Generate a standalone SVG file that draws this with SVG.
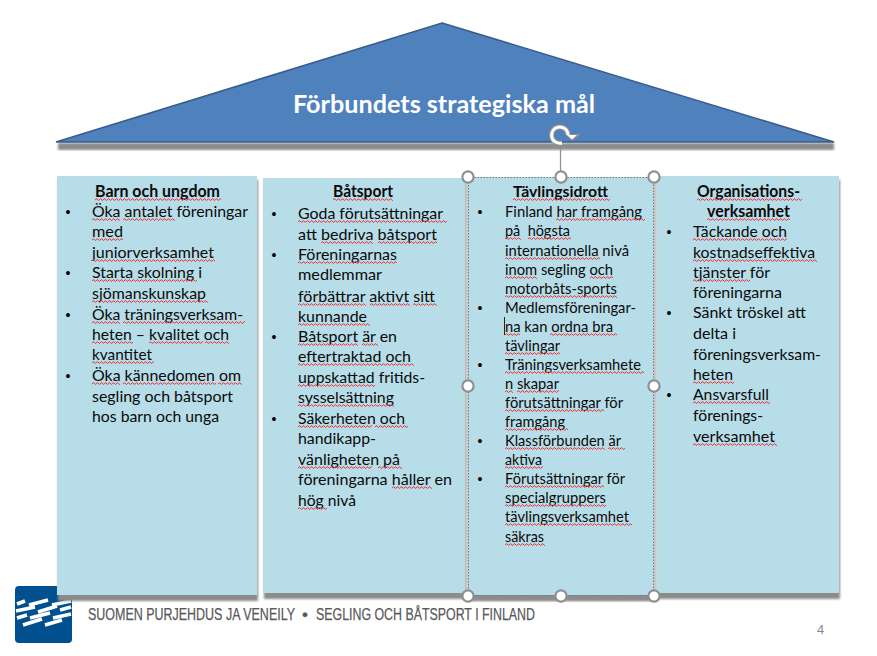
<svg xmlns="http://www.w3.org/2000/svg" width="877" height="656" viewBox="0 0 877 656">
<style>
text{font-family:Lato,"Liberation Sans",sans-serif;fill:#0a0a0a}
.t{font-size:16.2px}
.s{font-size:15.2px}
.h{font-weight:700}
.b{font-family:"Liberation Sans",sans-serif;font-size:14px;text-anchor:middle;fill:#000}
.f{font-family:"Liberation Sans",sans-serif;font-size:17px;fill:#58595b;stroke:#58595b;stroke-width:.25}
.box{fill:#b7dde8}
.shd{fill:#8c8c8c;filter:url(#blur)}
.q{fill:url(#sq)}
.hd{fill:#fff;stroke:#8f8f8f;stroke-width:2.2}
</style>
<defs>
<filter id="blur" x="-5%" y="-5%" width="110%" height="110%"><feGaussianBlur stdDeviation="0.8"/></filter>
<pattern id="sq" patternUnits="userSpaceOnUse" width="4" height="3"><path d="M0 2.3L1 .8L2 .8L3 2.3L4 2.3" fill="none" stroke="#e8454a" stroke-width="1"/></pattern>
</defs>
<rect width="877" height="656" fill="#fff"/>

<g id="logo">
<rect x="15" y="586" width="57" height="57" rx="4" fill="#00508f"/>
<path d="M17 604L25 601M29 605L48 600M52 605L71 601M16 611L35 607M38 612L57 606M60 610L71 607M17 618L27 615M30 618L50 613M53 618L71 614M23 625L42 619M45 625L62 620" stroke="#fff" stroke-width="3.8" fill="none"/>
</g>

<g id="roof">
<rect x="58" y="143" width="776" height="7" class="shd"/>
<polygon points="442,23 834,142 56,142" fill="#4f81bd" stroke="#385d8a" stroke-width="1.6" stroke-linejoin="miter"/>
<text x="293" y="113" class="h" font-size="25" style="fill:#fff" textLength="302" lengthAdjust="spacingAndGlyphs">Förbundets strategiska mål</text>
</g>

<g id="node-barn">
<rect x="58" y="180" width="200" height="421" class="shd"/>
<rect x="57" y="176" width="200" height="419" class="box"/>
<text x="95" y="197" class="t h" textLength="125" lengthAdjust="spacingAndGlyphs">Barn och ungdom</text>
<text x="68" y="217" class="b">•</text><text x="92" y="217" class="t" textLength="156" lengthAdjust="spacingAndGlyphs">Öka antalet föreningar</text>
<text x="92" y="237" class="t" textLength="31" lengthAdjust="spacingAndGlyphs">med</text>
<text x="92" y="258" class="t" textLength="122" lengthAdjust="spacingAndGlyphs">juniorverksamhet</text>
<text x="68" y="278" class="b">•</text><text x="92" y="278" class="t" textLength="110" lengthAdjust="spacingAndGlyphs">Starta skolning i</text>
<text x="92" y="299" class="t" textLength="114" lengthAdjust="spacingAndGlyphs">sjömanskunskap</text>
<text x="68" y="320" class="b">•</text><text x="92" y="320" class="t" textLength="151" lengthAdjust="spacingAndGlyphs">Öka träningsverksam-</text>
<text x="92" y="340" class="t" textLength="137" lengthAdjust="spacingAndGlyphs">heten – kvalitet och</text>
<text x="92" y="360" class="t" textLength="60" lengthAdjust="spacingAndGlyphs">kvantitet</text>
<text x="68" y="381" class="b">•</text><text x="92" y="381" class="t" textLength="149" lengthAdjust="spacingAndGlyphs">Öka kännedomen om</text>
<text x="92" y="402" class="t" textLength="141" lengthAdjust="spacingAndGlyphs">segling och båtsport</text>
<text x="92" y="422" class="t" textLength="127" lengthAdjust="spacingAndGlyphs">hos barn och unga</text>
<rect class="q" transform="translate(95,198)" width="126" height="3"/>
<rect class="q" transform="translate(92,218)" width="28" height="3"/>
<rect class="q" transform="translate(123,218)" width="52" height="3"/>
<rect class="q" transform="translate(92,238)" width="31" height="3"/>
<rect class="q" transform="translate(92,259)" width="123" height="3"/>
<rect class="q" transform="translate(92,279)" width="105" height="3"/>
<rect class="q" transform="translate(92,300)" width="116" height="3"/>
<rect class="q" transform="translate(92,321)" width="28" height="3"/>
<rect class="q" transform="translate(123,321)" width="122" height="3"/>
<rect class="q" transform="translate(92,341)" width="41" height="3"/>
<rect class="q" transform="translate(149,341)" width="54" height="3"/>
<rect class="q" transform="translate(205,341)" width="24" height="3"/>
<rect class="q" transform="translate(92,361)" width="62" height="3"/>
<rect class="q" transform="translate(92,382)" width="28" height="3"/>
<rect class="q" transform="translate(123,382)" width="93" height="3"/>
<rect class="q" transform="translate(218,382)" width="24" height="3"/>
</g>

<g id="node-batsport">
<rect x="264" y="182" width="202" height="417" class="shd"/>
<rect x="263" y="178" width="202" height="415" class="box"/>
<text x="333" y="197" class="t h" textLength="60" lengthAdjust="spacingAndGlyphs">Båtsport</text>
<text x="274" y="219" class="b">•</text><text x="298" y="219" class="t" textLength="145" lengthAdjust="spacingAndGlyphs">Goda förutsättningar</text>
<text x="298" y="240" class="t" textLength="139" lengthAdjust="spacingAndGlyphs">att bedriva båtsport</text>
<text x="274" y="260" class="b">•</text><text x="298" y="260" class="t" textLength="99" lengthAdjust="spacingAndGlyphs">Föreningarnas</text>
<text x="298" y="280" class="t" textLength="84" lengthAdjust="spacingAndGlyphs">medlemmar</text>
<text x="298" y="302" class="t" textLength="137" lengthAdjust="spacingAndGlyphs">förbättrar aktivt sitt</text>
<text x="298" y="322" class="t" textLength="69" lengthAdjust="spacingAndGlyphs">kunnande</text>
<text x="274" y="342" class="b">•</text><text x="298" y="342" class="t" textLength="99" lengthAdjust="spacingAndGlyphs">Båtsport är en</text>
<text x="298" y="362" class="t" textLength="113" lengthAdjust="spacingAndGlyphs">eftertraktad och</text>
<text x="298" y="383" class="t" textLength="127" lengthAdjust="spacingAndGlyphs">uppskattad fritids-</text>
<text x="298" y="403" class="t" textLength="96" lengthAdjust="spacingAndGlyphs">sysselsättning</text>
<text x="274" y="424" class="b">•</text><text x="298" y="424" class="t" textLength="107" lengthAdjust="spacingAndGlyphs">Säkerheten och</text>
<text x="298" y="444" class="t" textLength="78" lengthAdjust="spacingAndGlyphs">handikapp-</text>
<text x="298" y="465" class="t" textLength="102" lengthAdjust="spacingAndGlyphs">vänligheten på</text>
<text x="298" y="485" class="t" textLength="154" lengthAdjust="spacingAndGlyphs">föreningarna håller en</text>
<text x="298" y="506" class="t" textLength="58" lengthAdjust="spacingAndGlyphs">hög nivå</text>
<rect class="q" transform="translate(333,198)" width="60" height="3"/>
<rect class="q" transform="translate(298,220)" width="149" height="3"/>
<rect class="q" transform="translate(321,241)" width="52" height="3"/>
<rect class="q" transform="translate(378,241)" width="59" height="3"/>
<rect class="q" transform="translate(298,261)" width="99" height="3"/>
<rect class="q" transform="translate(298,303)" width="68" height="3"/>
<rect class="q" transform="translate(370,303)" width="40" height="3"/>
<rect class="q" transform="translate(413,303)" width="24" height="3"/>
<rect class="q" transform="translate(298,323)" width="72" height="3"/>
<rect class="q" transform="translate(298,343)" width="60" height="3"/>
<rect class="q" transform="translate(362,343)" width="16" height="3"/>
<rect class="q" transform="translate(298,363)" width="116" height="3"/>
<rect class="q" transform="translate(298,384)" width="77" height="3"/>
<rect class="q" transform="translate(298,404)" width="96" height="3"/>
<rect class="q" transform="translate(298,425)" width="74" height="3"/>
<rect class="q" transform="translate(375,425)" width="33" height="3"/>
<rect class="q" transform="translate(298,466)" width="74" height="3"/>
<rect class="q" transform="translate(378,466)" width="24" height="3"/>
<rect class="q" transform="translate(392,486)" width="40" height="3"/>
<rect class="q" transform="translate(298,507)" width="29" height="3"/>
</g>

<g id="node-tavling">
<rect x="466" y="181" width="191" height="420" class="shd" style="fill:#c4c4c4"/>
<rect x="469" y="592" width="188" height="9" class="shd"/>
<rect x="468" y="177" width="186" height="418" class="box"/>
<text x="513" y="197" class="s h" textLength="95" lengthAdjust="spacingAndGlyphs">Tävlingsidrott</text>
<text x="480" y="217" class="b">•</text><text x="505" y="217" class="s" textLength="137" lengthAdjust="spacingAndGlyphs">Finland har framgång</text>
<text x="505" y="236" class="s" xml:space="preserve" textLength="65" lengthAdjust="spacingAndGlyphs">på  högsta</text>
<text x="505" y="256" class="s" textLength="124" lengthAdjust="spacingAndGlyphs">internationella nivå</text>
<text x="505" y="275" class="s" textLength="108" lengthAdjust="spacingAndGlyphs">inom segling och</text>
<text x="505" y="294" class="s" textLength="112" lengthAdjust="spacingAndGlyphs">motorbåts-sports</text>
<text x="480" y="313" class="b">•</text><text x="505" y="313" class="s" textLength="131" lengthAdjust="spacingAndGlyphs">Medlemsföreningar-</text>
<text x="505" y="332" class="s" textLength="108" lengthAdjust="spacingAndGlyphs">na kan ordna bra</text>
<text x="505" y="351" class="s" textLength="55" lengthAdjust="spacingAndGlyphs">tävlingar</text>
<text x="480" y="370" class="b">•</text><text x="505" y="370" class="s" textLength="136" lengthAdjust="spacingAndGlyphs">Träningsverksamhete</text>
<text x="505" y="389" class="s" textLength="54" lengthAdjust="spacingAndGlyphs">n skapar</text>
<text x="505" y="408" class="s" textLength="118" lengthAdjust="spacingAndGlyphs">förutsättningar för</text>
<text x="505" y="427" class="s" textLength="60" lengthAdjust="spacingAndGlyphs">framgång</text>
<text x="480" y="446" class="b">•</text><text x="505" y="446" class="s" textLength="116" lengthAdjust="spacingAndGlyphs">Klassförbunden är</text>
<text x="505" y="465" class="s" textLength="37" lengthAdjust="spacingAndGlyphs">aktiva</text>
<text x="480" y="484" class="b">•</text><text x="505" y="484" class="s" textLength="120" lengthAdjust="spacingAndGlyphs">Förutsättningar för</text>
<text x="505" y="503" class="s" textLength="101" lengthAdjust="spacingAndGlyphs">specialgruppers</text>
<text x="505" y="522" class="s" textLength="124" lengthAdjust="spacingAndGlyphs">tävlingsverksamhet</text>
<text x="505" y="542" class="s" textLength="39" lengthAdjust="spacingAndGlyphs">säkras</text>
<rect x="504" y="317" width="1" height="18" fill="#3b1a10"/>
<rect class="q" transform="translate(513,198)" width="97" height="3"/>
<rect class="q" transform="translate(556,218)" width="89" height="3"/>
<rect class="q" transform="translate(505,237)" width="16" height="3"/>
<rect class="q" transform="translate(528,237)" width="43" height="3"/>
<rect class="q" transform="translate(505,257)" width="95" height="3"/>
<rect class="q" transform="translate(505,276)" width="32" height="3"/>
<rect class="q" transform="translate(590,276)" width="23" height="3"/>
<rect class="q" transform="translate(505,295)" width="112" height="3"/>
<rect class="q" transform="translate(505,333)" width="15" height="3"/>
<rect class="q" transform="translate(550,333)" width="67" height="3"/>
<rect class="q" transform="translate(505,352)" width="55" height="3"/>
<rect class="q" transform="translate(505,371)" width="139" height="3"/>
<rect class="q" transform="translate(505,390)" width="8" height="3"/>
<rect class="q" transform="translate(517,390)" width="42" height="3"/>
<rect class="q" transform="translate(505,409)" width="99" height="3"/>
<rect class="q" transform="translate(505,428)" width="63" height="3"/>
<rect class="q" transform="translate(505,447)" width="100" height="3"/>
<rect class="q" transform="translate(608,447)" width="17" height="3"/>
<rect class="q" transform="translate(505,466)" width="38" height="3"/>
<rect class="q" transform="translate(505,485)" width="99" height="3"/>
<rect class="q" transform="translate(505,504)" width="101" height="3"/>
<rect class="q" transform="translate(505,523)" width="127" height="3"/>
<rect class="q" transform="translate(505,543)" width="40" height="3"/>
</g>

<g id="node-organisation">
<rect x="658" y="180" width="182" height="419" class="shd"/>
<rect x="657" y="176" width="182" height="417" class="box"/>
<text x="697" y="197" class="t h" textLength="103" lengthAdjust="spacingAndGlyphs">Organisations-</text>
<text x="707" y="217" class="t h" textLength="83" lengthAdjust="spacingAndGlyphs">verksamhet</text>
<text x="669" y="237" class="b">•</text><text x="693" y="237" class="t" textLength="94" lengthAdjust="spacingAndGlyphs">Täckande och</text>
<text x="693" y="258" class="t" textLength="122" lengthAdjust="spacingAndGlyphs">kostnadseffektiva</text>
<text x="693" y="278" class="t" textLength="77" lengthAdjust="spacingAndGlyphs">tjänster för</text>
<text x="693" y="298" class="t" textLength="89" lengthAdjust="spacingAndGlyphs">föreningarna</text>
<text x="669" y="318" class="b">•</text><text x="693" y="318" class="t" textLength="113" lengthAdjust="spacingAndGlyphs">Sänkt tröskel att</text>
<text x="693" y="339" class="t" textLength="43" lengthAdjust="spacingAndGlyphs">delta i</text>
<text x="693" y="360" class="t" textLength="128" lengthAdjust="spacingAndGlyphs">föreningsverksam-</text>
<text x="693" y="380" class="t" textLength="40" lengthAdjust="spacingAndGlyphs">heten</text>
<text x="669" y="400" class="b">•</text><text x="693" y="400" class="t" textLength="76" lengthAdjust="spacingAndGlyphs">Ansvarsfull</text>
<text x="693" y="421" class="t" textLength="70" lengthAdjust="spacingAndGlyphs">förenings-</text>
<text x="693" y="442" class="t" textLength="82" lengthAdjust="spacingAndGlyphs">verksamhet</text>
<rect class="q" transform="translate(697,198)" width="105" height="3"/>
<rect class="q" transform="translate(707,218)" width="83" height="3"/>
<rect class="q" transform="translate(693,238)" width="94" height="3"/>
<rect class="q" transform="translate(693,259)" width="124" height="3"/>
<rect class="q" transform="translate(693,279)" width="57" height="3"/>
<rect class="q" transform="translate(693,381)" width="41" height="3"/>
<rect class="q" transform="translate(693,401)" width="77" height="3"/>
<rect class="q" transform="translate(693,443)" width="84" height="3"/>
</g>

<g id="footer">
<text x="88" y="620" class="f" textLength="207" lengthAdjust="spacingAndGlyphs">SUOMEN PURJEHDUS JA VENEILY</text>
<text x="305" y="620" class="f" text-anchor="middle">•</text>
<text x="316" y="620" class="f" textLength="219" lengthAdjust="spacingAndGlyphs">SEGLING OCH BÅTSPORT I FINLAND</text>
<text x="817" y="634" font-size="13" style="font-family:'Liberation Sans',sans-serif;fill:#8b8b8b">4</text>
</g>

<g id="connectors">
<line x1="560.5" y1="143" x2="560.5" y2="172" stroke="#8f8f8f" stroke-width="1.2"/>
</g>

<g id="selection">
<rect x="468.5" y="177.5" width="185" height="418" fill="none" stroke="#777" stroke-width="1" stroke-dasharray="1.5 1.5"/>
<circle class="hd" cx="468" cy="177" r="5.6"/><circle class="hd" cx="561" cy="177" r="5.6"/><circle class="hd" cx="654" cy="177" r="5.6"/>
<circle class="hd" cx="468" cy="386" r="5.6"/><circle class="hd" cx="654" cy="386" r="5.6"/>
<circle class="hd" cx="468" cy="596" r="5.6"/><circle class="hd" cx="561" cy="596" r="5.6"/><circle class="hd" cx="654" cy="596" r="5.6"/>
<path d="M568 135A8.2 8.2 0 1 0 562 143" fill="none" stroke="#8f8f8f" stroke-width="5.5"/>
<polygon points="565,134 581,134 572,141" fill="#8f8f8f"/>
<path d="M568 135A8.2 8.2 0 1 0 562 143" fill="none" stroke="#fff" stroke-width="3"/>
<polygon points="567,135 577,135 572,139.500" fill="#fff"/>
</g>
</svg>
